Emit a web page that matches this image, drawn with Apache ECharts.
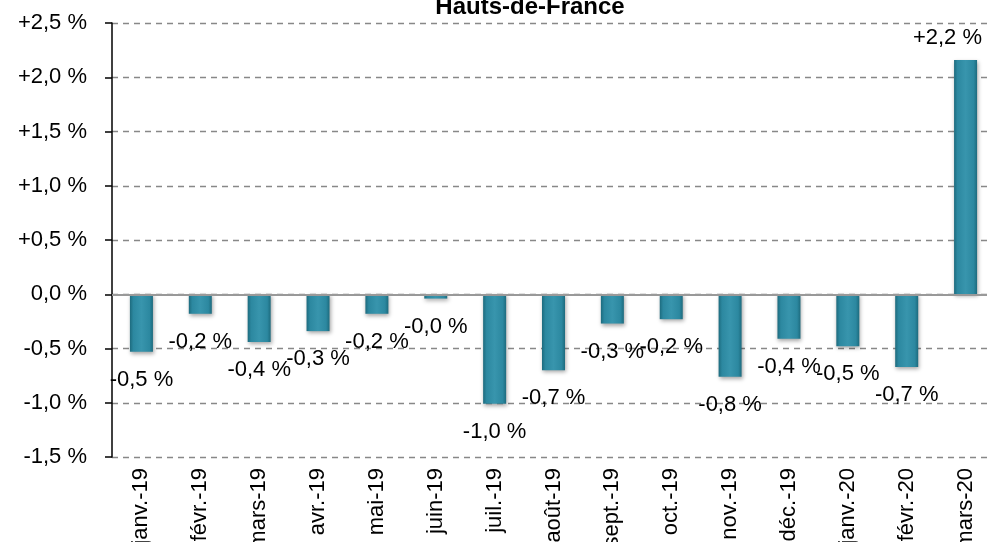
<!DOCTYPE html>
<html><head><meta charset="utf-8">
<script src="https://cdn.jsdelivr.net/npm/echarts@6/dist/echarts.min.js"></script>
<style>html,body{margin:0;padding:0;background:#fff}#c{width:987px;height:542px}</style>
</head><body><div id="c"></div>
<script>
const categories = ['janv.-19','févr.-19','mars-19','avr.-19','mai-19','juin-19','juil.-19','août-19','sept.-19','oct.-19','nov.-19','déc.-19','janv.-20','févr.-20','mars-20'];
const values = [-0.53,-0.18,-0.44,-0.34,-0.18,-0.04,-1.01,-0.70,-0.27,-0.23,-0.76,-0.41,-0.48,-0.67,2.16];
const yTicks = [-1.5,-1.0,-0.5,0,0.5,1.0,1.5,2.0,2.5];
const titleText = 'Hauts-de-France';

const FONT = "'Liberation Sans',Arial,sans-serif";
function fmt(v){
  const s = Math.abs(v).toFixed(1).replace('.', ',');
  if (Math.abs(v) < 1e-9) return s + ' %';
  return (v > 0 ? '+' : '-') + s + ' %';
}
const chart = echarts.init(document.getElementById('c'));
chart.setOption({
  animation:false,
  title:{text:titleText,left:525,textAlign:'center',top:-10,textStyle:{fontFamily:FONT,fontWeight:'bold',fontSize:24,color:'#000'}},
  grid:{left:112,right:-8,top:23,bottom:85,containLabel:false,outerBoundsMode:'none'},
  xAxis:{type:'category',data:categories,
    axisLine:{show:false},axisTick:{show:false},
    axisLabel:{rotate:90,interval:0,margin:11,fontFamily:FONT,fontSize:22,color:'#000'}},
  yAxis:{type:'value',min:yTicks[0],max:yTicks[yTicks.length-1],interval:0.5,
    axisLine:{show:true,lineStyle:{color:'#000',width:1.5}},
    axisTick:{show:true,inside:false,length:7,lineStyle:{color:'#000',width:1.5}},
    splitLine:{show:true,lineStyle:{color:'#888',type:[6,5],width:1.3}},
    axisLabel:{margin:25,fontFamily:FONT,fontSize:22,color:'#000',formatter:v=>fmt(v)}},
  series:[{type:'bar',data:values,barWidth:23,
    itemStyle:{color:new echarts.graphic.LinearGradient(0,0,1,0,[
      {offset:0,color:'#1d6b7e'},{offset:0.15,color:'#2c88a0'},{offset:0.5,color:'#3895ad'},{offset:0.85,color:'#2c88a0'},{offset:1,color:'#1d6b7e'}]),
      shadowColor:'rgba(0,0,0,0.35)',shadowBlur:4,shadowOffsetX:1,shadowOffsetY:2},
    label:{show:true,position:'outside',distance:17,fontFamily:FONT,fontSize:22,color:'#000',
      formatter:p=>fmt(p.value)},
    labelLayout:function(p){
      const r = p.labelRect;
      const over = r.x + r.width - 982;
      return over > 0 ? {dx:-over, dy:6} : {};
    },
    markLine:{silent:true,symbol:'none',label:{show:false},lineStyle:{color:'#999',type:'solid',width:2},data:[{yAxis:0}]}
  }]
});
</script></body></html>
